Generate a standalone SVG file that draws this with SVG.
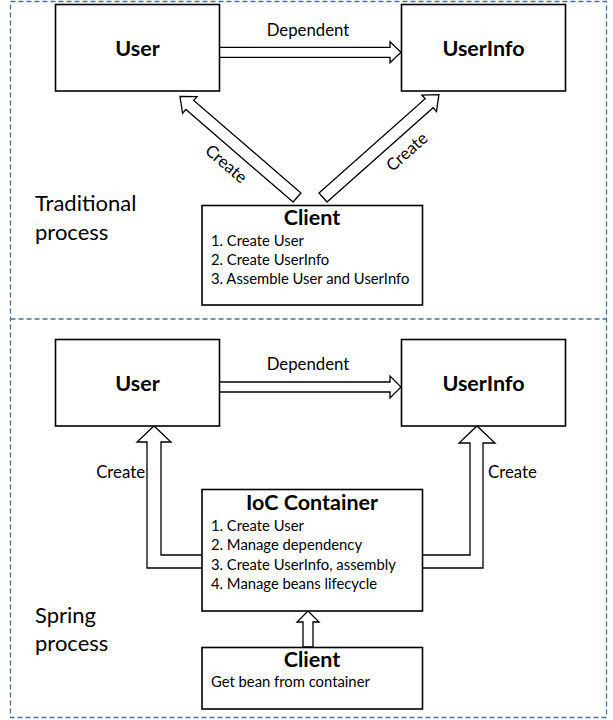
<svg xmlns="http://www.w3.org/2000/svg" width="613" height="720" viewBox="0 0 613 720">
<style>
  .frame { fill: none; stroke: #41719C; stroke-width: 1.3; stroke-dasharray: 5 3; }
  .box { fill: #ffffff; stroke: #000000; stroke-width: 1.6; }
  .arrow { fill: #ffffff; stroke: #000000; stroke-width: 1.3; stroke-linejoin: miter; }
  text { font-family: Lato, "Open Sans", "Liberation Sans", sans-serif; fill: #000000; }
  .title { font-size: 21.5px; font-weight: bold; text-anchor: middle; }
  .item { font-size: 14.8px; }
  .label { font-size: 16.8px; }
  .side { font-size: 22px; }
</style>
<rect width="613" height="720" fill="#ffffff"/>

<g id="frames">
  <rect class="frame" x="10.5" y="1.5" width="596" height="716"/>
  <line class="frame" x1="10.5" y1="319" x2="606.5" y2="319"/>
</g>

<g id="connectors">
  <!-- top: Dependent -->
  <polygon class="arrow" points="219,47.3 390,47.3 390,41.7 401,52.3 390,62.7 390,57.3 219,57.3"/>
  <!-- top: Client -> User (diagonal) -->
  <polygon class="arrow" transform="translate(297,197.5) rotate(-139.2)" points="0,-6 141.6,-6 141.6,-11 154.6,0 141.6,11 141.6,6 0,6"/>
  <!-- top: Client -> UserInfo (diagonal) -->
  <polygon class="arrow" transform="translate(323,197.5) rotate(-41.6)" points="0,-6 142,-6 142,-11 155,0 142,11 142,6 0,6"/>
  <!-- bottom: Dependent -->
  <polygon class="arrow" points="219,382 390,382 390,376 401,387 390,398 390,392 219,392"/>
  <!-- bottom: IoC -> User -->
  <polyline class="arrow" points="202,555 161,555 161,442 171,442 154,426 137,442 147,442 147,568 202,568"/>
  <!-- bottom: IoC -> UserInfo -->
  <polyline class="arrow" points="422,555 470,555 470,443 459,443 477,426 495,443 483,443 483,568 422,568"/>
  <!-- bottom: Client -> IoC -->
  <polygon class="arrow" points="303,647 303,622 297,622 308,611 319,622 313,622 313,647"/>
</g>

<g id="labels">
  <text class="label" x="308" y="36" text-anchor="middle">Dependent</text>
  <text class="label" transform="translate(226,164) rotate(40.8)" text-anchor="middle" dy="5.5">Create</text>
  <text class="label" transform="translate(407,152) rotate(-41.6)" text-anchor="middle" dy="5.5">Create</text>
  <text class="label" x="308" y="370" text-anchor="middle">Dependent</text>
  <text class="label" x="145" y="478" text-anchor="end">Create</text>
  <text class="label" x="488" y="478">Create</text>
  <text class="side" x="35" y="211">Traditional</text>
  <text class="side" x="35" y="240">process</text>
  <text class="side" x="35" y="623">Spring</text>
  <text class="side" x="35" y="651">process</text>
</g>

<g id="user-top">
  <rect class="box" x="55.5" y="4.5" width="164" height="86.5"/>
  <text class="title" x="137.5" y="56">User</text>
</g>
<g id="userinfo-top">
  <rect class="box" x="401.5" y="4.5" width="164" height="86.5"/>
  <text class="title" x="483.5" y="56">UserInfo</text>
</g>
<g id="client-top">
  <rect class="box" x="202" y="205.5" width="220.5" height="99.5"/>
  <text class="title" x="312" y="224.5">Client</text>
  <text class="item" x="211" y="246">1. Create User</text>
  <text class="item" x="211" y="265">2. Create UserInfo</text>
  <text class="item" x="211" y="284">3. Assemble User and UserInfo</text>
</g>

<g id="user-bottom">
  <rect class="box" x="55.5" y="339.5" width="164" height="86.5"/>
  <text class="title" x="137.5" y="391">User</text>
</g>
<g id="userinfo-bottom">
  <rect class="box" x="401.5" y="339.5" width="164" height="86.5"/>
  <text class="title" x="483.5" y="391">UserInfo</text>
</g>
<g id="ioc-container">
  <rect class="box" x="202" y="489.5" width="220.5" height="121.5"/>
  <text class="title" x="312" y="510">IoC Container</text>
  <text class="item" x="211" y="531">1. Create User</text>
  <text class="item" x="211" y="550">2. Manage dependency</text>
  <text class="item" x="211" y="570">3. Create UserInfo, assembly</text>
  <text class="item" x="211" y="589">4. Manage beans lifecycle</text>
</g>
<g id="client-bottom">
  <rect class="box" x="202" y="647.5" width="220.5" height="61.5"/>
  <text class="title" x="312" y="667">Client</text>
  <text class="item" x="211" y="687">Get bean from container</text>
</g>
</svg>
